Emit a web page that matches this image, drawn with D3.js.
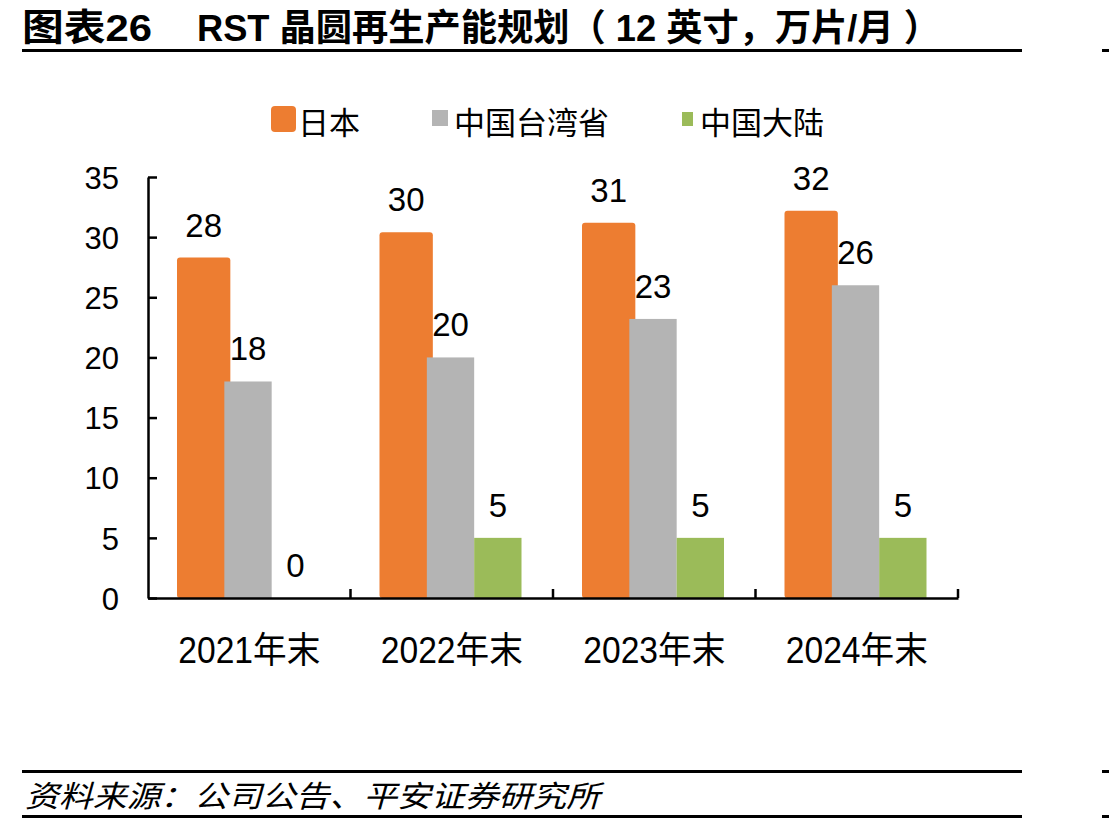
<!DOCTYPE html>
<html>
<head>
<meta charset="utf-8">
<script src="https://cdn.jsdelivr.net/npm/d3@7"></script>
<style>
  body { margin: 0; background: #fff; }
  svg text { font-family: "Liberation Sans", Arial, "Noto Sans CJK SC", sans-serif; fill: #000; }
</style>
</head>
<body>
<div id="chart"></div>
<script>
// data
var categories = ["2021年末", "2022年末", "2023年末", "2024年末"];
var seriesNames = ["日本", "中国台湾省", "中国大陆"];
var japan = [28.3, 30.4, 31.2, 32.2];
var taiwan = [18, 20, 23.2, 26];
var mainland = [0, 5, 5, 5];
var yTicks = [0, 5, 10, 15, 20, 25, 30, 35];
var colors = ["#ED7D31", "#B4B4B4", "#9BBB59"];

var w = 1109, h = 827;
var svg = d3.select("#chart").append("svg")
    .attr("width", w)
    .attr("height", h);

// title + rules
svg.append("text")
    .attr("x", 22).attr("y", 41)
    .attr("textLength", 130).attr("lengthAdjust", "spacingAndGlyphs")
    .style("font-size", "37px").style("font-weight", "bold")
    .text("图表26");
svg.append("text")
    .attr("x", 197).attr("y", 41)
    .attr("textLength", 743).attr("lengthAdjust", "spacingAndGlyphs")
    .style("font-size", "37px").style("font-weight", "bold")
    .text("RST 晶圆再生产能规划（ 12 英寸，万片/月 ）");

function rule(yy) {
    svg.append("rect").attr("x", 22).attr("y", yy).attr("width", 1000).attr("height", 3).attr("fill", "#000");
    svg.append("rect").attr("x", 1102).attr("y", yy).attr("width", 7).attr("height", 3).attr("fill", "#000");
}
rule(49);
rule(770);
rule(815);

svg.append("text")
    .attr("x", 25).attr("y", 807)
    .attr("textLength", 575).attr("lengthAdjust", "spacingAndGlyphs")
    .style("font-size", "30px").style("font-style", "italic")
    .style("font-family", "'Noto Sans CJK SC', sans-serif")
    .text("资料来源：公司公告、平安证券研究所");

// scales
var x0 = d3.scaleBand().domain(categories).range([148, 958]).padding(0);
var x1 = d3.scaleBand().domain(seriesNames).range([29, 171]).padding(0);
var y = d3.scaleLinear().domain([0, 35]).range([598, 177]);
var fmt = d3.format(".0f");

var rows = categories.map(function(c, i) {
    return { cat: c, vals: [japan[i], taiwan[i], mainland[i]] };
});

// bars
var groups = svg.selectAll(".grp")
    .data(rows)
    .enter().append("g")
    .attr("class", "grp")
    .attr("transform", function(d) { return "translate(" + x0(d.cat) + ",0)"; });

function cells(d) {
    return d.vals.map(function(v, j) { return { s: seriesNames[j], v: v, j: j }; });
}

groups.selectAll("rect")
    .data(cells)
    .enter().append("rect")
    .attr("x", function(d) { return x1(d.s); })
    .attr("y", function(d) { return y(d.v); })
    .attr("width", function(d) { return x1.bandwidth() + (d.j === 0 ? 6 : 0); })
    .attr("height", function(d) { return y(0) - y(d.v); })
    .attr("rx", function(d) { return d.j === 0 ? 3 : 0; })
    .attr("fill", function(d) { return colors[d.j]; });

groups.selectAll(".lbl")
    .data(cells)
    .enter().append("text")
    .attr("class", "lbl")
    .attr("x", function(d) { return x1(d.s) + x1.bandwidth() / 2 + (d.j === 0 ? 3 : 0); })
    .attr("y", function(d) { return y(d.v) - 21; })
    .attr("text-anchor", "middle")
    .style("font-size", "33px")
    .text(function(d) { return fmt(d.v); });

// y axis
var yAxis = svg.append("g")
    .attr("transform", "translate(148,0)")
    .call(d3.axisLeft(y).tickValues(yTicks).tickSizeInner(-9).tickSizeOuter(0).tickPadding(29));
yAxis.select(".domain").attr("stroke", "#000").attr("stroke-width", 2.5);
yAxis.selectAll(".tick line").attr("stroke", "#000").attr("stroke-width", 2.5);
yAxis.selectAll(".tick text").style("font-size", "31px").attr("dy", "0.36em")
    .style("font-family", "'Liberation Sans', Arial, sans-serif").attr("fill", "#000");

// x axis
var xAxis = svg.append("g")
    .attr("transform", "translate(0,598)")
    .call(d3.axisBottom(x0).tickSize(0).tickPadding(39));
xAxis.select(".domain").attr("stroke", "#000").attr("stroke-width", 2.5);
xAxis.selectAll(".tick text")
    .attr("dy", "0.71em")
    .attr("textLength", 142).attr("lengthAdjust", "spacingAndGlyphs")
    .style("font-size", "36px")
    .style("font-family", "'Liberation Sans', Arial, 'Noto Sans CJK SC', sans-serif").attr("fill", "#000");
svg.selectAll(".xsep")
    .data(categories)
    .enter().append("line")
    .attr("class", "xsep")
    .attr("x1", function(d) { return x0(d) + x0.bandwidth(); })
    .attr("x2", function(d) { return x0(d) + x0.bandwidth(); })
    .attr("y1", 598).attr("y2", 589)
    .attr("stroke", "#000").attr("stroke-width", 2.5);

// legend
var legend = [
    { name: seriesNames[0], x: 271, sw: 25, sh: 26, sy: 106, rx: 4, tx: 298 },
    { name: seriesNames[1], x: 432, sw: 16, sh: 16, sy: 110, rx: 0, tx: 454 },
    { name: seriesNames[2], x: 682, sw: 11, sh: 14, sy: 112, rx: 0, tx: 700 }
];
legend.forEach(function(l, i) {
    svg.append("rect").attr("x", l.x).attr("y", l.sy).attr("width", l.sw).attr("height", l.sh)
        .attr("rx", l.rx).attr("fill", colors[i]);
    svg.append("text").attr("x", l.tx).attr("y", 134)
        .style("font-size", "31px").style("font-family", "'Noto Sans CJK SC', sans-serif")
        .text(l.name);
});
</script>
</body>
</html>
